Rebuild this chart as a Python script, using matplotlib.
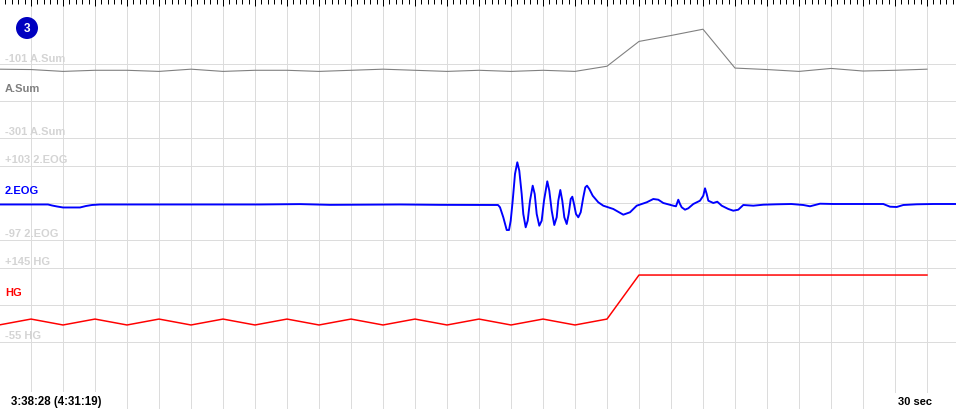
import matplotlib
matplotlib.use("Agg")
import matplotlib.pyplot as plt
from matplotlib.patches import Ellipse
from matplotlib.ticker import MultipleLocator

# A.Sum and HG: one sample per second
sec = list(range(30))
asum = [-115, -116, -121, -118, -118, -121, -115, -121, -118, -118,
        -121, -118, -115, -118, -121, -118, -121, -118, -121, -107,
        -40, -24, -7, -112, -116, -121, -113, -120, -118, -115]
hg = [-9, 7, -9, 7, -9, 7, -9, 7, -9, 7,
      -9, 7, -9, 7, -9, 7, -9, 7, -9, 7,
      126, 126, 126, 126, 126, 126, 126, 126, 126, 126]

# 2.EOG
eog_t = [0.0, 1.531, 1.656, 1.813, 2.0, 2.531, 2.719, 2.906, 3.156, 6.281,
         8.156, 9.406, 10.344, 12.531, 13.781, 15.594, 15.656, 15.759, 15.866, 15.938,
         15.991, 16.053, 16.125, 16.197, 16.259, 16.334, 16.384, 16.459, 16.522, 16.594,
         16.678, 16.741, 16.803, 16.884, 16.959, 17.031, 17.134, 17.197, 17.272, 17.353,
         17.428, 17.478, 17.541, 17.603, 17.666, 17.741, 17.803, 17.866, 17.916, 17.969,
         18.031, 18.103, 18.178, 18.259, 18.322, 18.375, 18.447, 18.553, 18.728, 18.884,
         19.197, 19.509, 19.719, 19.928, 20.241, 20.447, 20.603, 20.759, 21.072, 21.156,
         21.228, 21.281, 21.334, 21.438, 21.541, 21.697, 21.906, 22.009, 22.063, 22.116,
         22.166, 22.322, 22.447, 22.584, 22.791, 22.947, 23.103, 23.259, 23.572, 23.884,
         24.303, 24.759, 25.134, 25.344, 25.656, 26.072, 27.634, 27.844, 28.053, 28.259,
         28.678, 29.197, 29.906]
eog_v = [-1, -1, -3.7, -6.4, -9.1, -9.1, -5.1, -2.4, -1, -1,
         -1, 0, -2, -1, -2, -2.4, -8.6, -35.6, -70.0, -70.0,
         -44.8, 9.2, 81.4, 113.0, 90.3, 27.3, -26.7, -62.7, -44.8, 9.2,
         49.8, 27.3, -26.7, -58.4, -44.8, 9.2, 61.6, 36.3, -17.8, -56.5,
         -35.6, 9.2, 38.2, 9.2, -35.6, -53.8, -26.7, 13.8, 20.0, 0.3,
         -26.7, -35.6, -22.1, 18.4, 45.4, 49.8, 40.8, 22.7, 4.9, -4.3,
         -13.2, -28.6, -22.1, -4.3, 4.9, 13.8, 11.9, 3.0, -4.3, -5.9,
         11.9, 0.3, -8.6, -15.1, -11.3, 0.3, 9.2, 22.7, 42.7, 27.3,
         9.2, 3.0, 6.5, -4.3, -13.2, -17.8, -15.1, -2.4, -4.3, -1.6,
         -0.5, 0.3, -2.4, -5.9, 1.1, 0.3, 0.3, -7.0, -7.8, -2.4,
         -0.5, 0.3, 0.3]

names = ["A.Sum", "2.EOG", "HG"]
tops = [-101, 103, 145]
bottoms = [-301, -97, -55]
top_labels = ["-101 A.Sum", "+103 2.EOG", "+145 HG"]
bottom_labels = ["-301 A.Sum", "-97 2.EOG", "-55 HG"]
colors = ["#808080", "#0000ff", "#ff0000"]

W, H = 956, 410
PX = 0.72  # points per pixel at dpi 100
GRID = "#dcdcdc"
FAINT = "#d4d4d4"
FONT = ["Liberation Sans", "DejaVu Sans"]

fig = plt.figure(figsize=(W / 100, H / 100), dpi=100)
xlim = (1 / 32, (W + 1) / 32)

# background: vertical grid + top ruler
bg = fig.add_axes([0, 0, 1, 1])
bg.set_xlim(xlim)
bg.set_ylim(0, 1)
bg.xaxis.tick_top()
bg.xaxis.set_major_locator(MultipleLocator(1))
bg.xaxis.set_minor_locator(MultipleLocator(0.2))
bg.tick_params(axis="x", which="major", direction="in", length=7 * PX, width=1 * PX,
               color="black", labeltop=False, labelbottom=False)
bg.tick_params(axis="x", which="minor", direction="in", length=5 * PX, width=1 * PX,
               color="black")
bg.set_yticks([])
bg.grid(True, axis="x", which="major", color=GRID, lw=1 * PX)
for s in bg.spines.values():
    s.set_visible(False)

# channel bands (top / bottom pixel rows of each band)
band_px = [(65, 139), (167, 241), (269, 343)]
axes = []
for i, (ytop, ybot) in enumerate(band_px):
    ax = fig.add_axes([0, 1 - ybot / H, 1, (ybot - ytop) / H])
    ax.patch.set_alpha(0)
    ax.set_xlim(xlim)
    ax.set_ylim(bottoms[i], tops[i])
    ax.set_xticks([])
    ax.set_yticks([])
    for s in ax.spines.values():
        s.set_visible(False)
    mid = (tops[i] + bottoms[i]) / 2
    for yv in (bottoms[i], mid, tops[i]):
        ax.axhline(yv, color=GRID, lw=1 * PX, clip_on=False, zorder=1)
    kw = dict(xycoords=("axes fraction", "data"), textcoords="offset points",
              va="baseline", ha="left", fontsize=8, fontweight="bold", family=FONT)
    ax.annotate(top_labels[i], xy=(0, tops[i]), xytext=(5 * PX, 3.5 * PX), color=FAINT, **kw)
    ax.annotate(bottom_labels[i], xy=(0, bottoms[i]), xytext=(5 * PX, 3.7 * PX), color=FAINT, **kw)
    ax.annotate(names[i], xy=(0, mid), xytext=(5 * PX, 10 * PX), color=colors[i], **kw)
    axes.append(ax)

axes[0].plot(sec, asum, color=colors[0], lw=1.1 * PX, clip_on=False, zorder=5)
axes[1].plot(eog_t, eog_v, color=colors[1], lw=1.9 * PX, clip_on=False, zorder=5)
axes[2].plot(sec, hg, color=colors[2], lw=1.5 * PX, clip_on=False, zorder=5)

# marker badge
fig.add_artist(Ellipse((27 / W, 1 - 29 / H), 22 / W, 22 / H, transform=fig.transFigure,
                       facecolor="#0000c0", edgecolor="none", zorder=6))
fig.text(27 / W, 1 - 29.5 / H, "3", color="white", fontsize=8.5, fontweight="bold",
         ha="center", va="center", family=FONT, zorder=7)

# time stamp and scale
box = dict(boxstyle="square,pad=0.3", facecolor="white", edgecolor="none")
fig.text(11 / W, 5 / H, "3:38:28 (4:31:19)", fontsize=8.3, fontweight="bold",
         family=FONT, va="baseline", ha="left", bbox=box, zorder=8)
fig.text(898 / W, 5 / H, "30 sec", fontsize=8, fontweight="bold",
         family=FONT, va="baseline", ha="left", bbox=box, zorder=8)

fig.savefig("out.png", dpi=100)
